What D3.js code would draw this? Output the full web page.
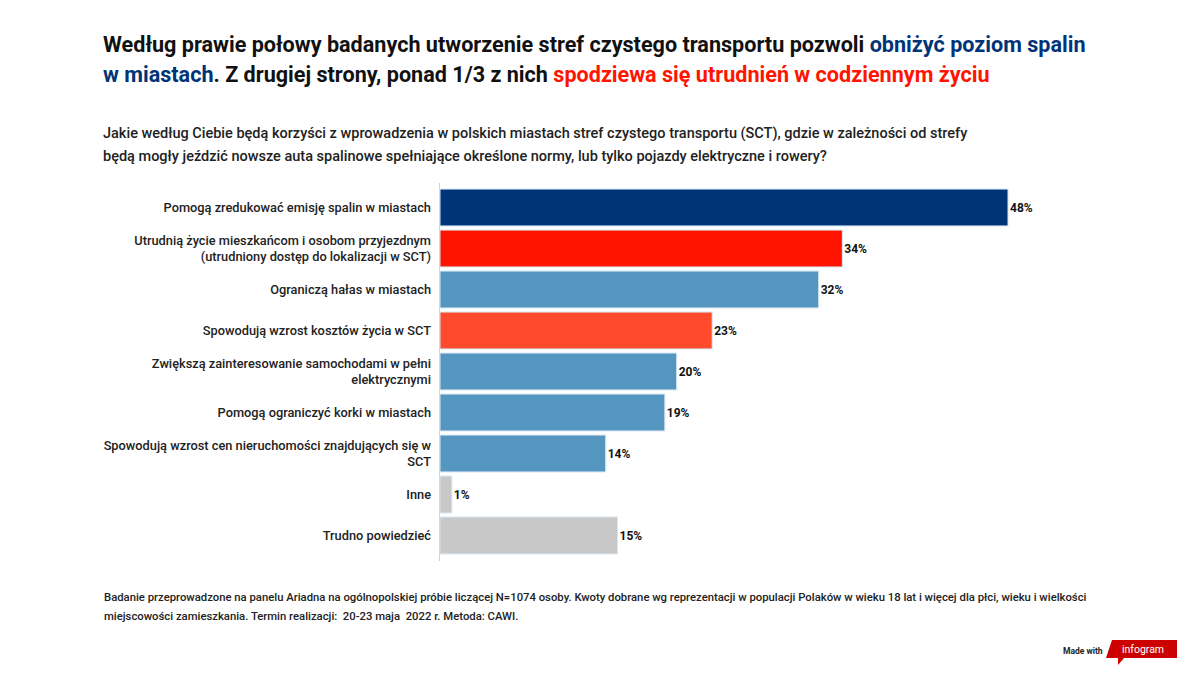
<!DOCTYPE html>
<html><head><meta charset="utf-8">
<script src="https://cdn.jsdelivr.net/npm/d3@7"></script>
<style>
html,body{margin:0;padding:0;background:#fff;}
svg{display:block;font-family:Roboto,"Noto Sans",sans-serif;}
text{white-space:pre;}
</style></head>
<body>
<svg id="chart" width="1200" height="675"></svg>
<script>
const categories = [
  "Pomogą zredukować emisję spalin w miastach",
  "Utrudnią życie mieszkańcom i osobom przyjezdnym\n(utrudniony dostęp do lokalizacji w SCT)",
  "Ograniczą hałas w miastach",
  "Spowodują wzrost kosztów życia w SCT",
  "Zwiększą zainteresowanie samochodami w pełni\nelektrycznymi",
  "Pomogą ograniczyć korki w miastach",
  "Spowodują wzrost cen nieruchomości znajdujących się w\nSCT",
  "Inne",
  "Trudno powiedzieć"
];
const values = [48, 34, 32, 23, 20, 19, 14, 1, 15];
const barColors = ["#003478", "#ff1400", "#5496c0", "#ff4b2b", "#5496c0", "#5496c0", "#5496c0", "#c8c8c8", "#c8c8c8"];
const valueLabels = values.map(v => v + "%");

const titleLine1 = [
  {t: "Według prawie połowy badanych utworzenie stref czystego transportu pozwoli ", c: "#111"},
  {t: "obniżyć poziom spalin", c: "#003478"}
];
const titleLine2 = [
  {t: "w miastach", c: "#003478"},
  {t: ". Z drugiej strony, ponad 1/3 z nich ", c: "#111"},
  {t: "spodziewa się utrudnień w codziennym życiu", c: "#ff1400"}
];
const subtitle = [
  "Jakie według Ciebie będą korzyści z wprowadzenia w polskich miastach stref czystego transportu (SCT), gdzie w zależności od strefy",
  "będą mogły jeździć nowsze auta spalinowe spełniające określone normy, lub tylko pojazdy elektryczne i rowery?"
];
const footnote = [
  "Badanie przeprowadzone na panelu Ariadna na ogólnopolskiej próbie liczącej N=1074 osoby. Kwoty dobrane wg reprezentacji w populacji Polaków w wieku 18 lat i więcej dla płci, wieku i wielkości",
  "miejscowości zamieszkania. Termin realizacji:  20-23 maja  2022 r. Metoda: CAWI."
];

const svg = d3.select("#chart");

// Title
function richLine(parts, y) {
  const t = svg.append("text").attr("x", 103).attr("y", y)
    .attr("font-size", 21.6).attr("font-weight", 700);
  parts.forEach(p => t.append("tspan").attr("fill", p.c).text(p.t));
  return t;
}
richLine(titleLine1, 52);
richLine(titleLine2, 82);

svg.selectAll("text.sub").data(subtitle).enter().append("text")
  .attr("class", "sub").attr("x", 103).attr("y", (d, i) => 138 + i * 23)
  .attr("font-size", 14.5).attr("font-weight", 500).attr("fill", "#222").text(d => d);

// Chart
const x0 = 440;
const x = d3.scaleLinear().domain([0, 48]).range([x0, 1008]);
const y = d3.scaleBand().domain(categories).range([187, 556]).paddingInner(0.1).paddingOuter(0.05);

svg.append("line").attr("x1", x0 - 0.5).attr("x2", x0 - 0.5).attr("y1", 183).attr("y2", 561)
  .attr("stroke", "#d0d0d0").attr("stroke-width", 1);

svg.selectAll("rect.bar").data(values).enter().append("rect")
  .attr("class", "bar")
  .attr("x", x0)
  .attr("y", (d, i) => y(categories[i]))
  .attr("width", d => x(d) - x0)
  .attr("height", y.bandwidth())
  .attr("fill", (d, i) => barColors[i])
  .attr("stroke", "#d6e6f2").attr("stroke-width", 1);

svg.selectAll("text.val").data(values).enter().append("text")
  .attr("class", "val")
  .attr("x", d => x(d) + 2)
  .attr("y", (d, i) => y(categories[i]) + y.bandwidth() / 2 + 4)
  .attr("font-size", 12).attr("font-weight", 700).attr("fill", "#111")
  .text((d, i) => valueLabels[i]);

categories.forEach((c, i) => {
  const lines = c.split("\n");
  const cy = y(c) + y.bandwidth() / 2;
  const t = svg.append("text").attr("text-anchor", "end").attr("x", 431)
    .attr("font-size", 12.8).attr("font-weight", 500).attr("fill", "#222");
  lines.forEach((l, j) => {
    t.append("tspan").attr("x", 431)
      .attr("y", cy + 4.5 + (j - (lines.length - 1) / 2) * 15.5)
      .text(l);
  });
});

svg.selectAll("text.foot").data(footnote).enter().append("text")
  .attr("class", "foot").attr("x", 104).attr("y", (d, i) => 601 + i * 19)
  .attr("font-size", 11.3).attr("font-weight", 500).attr("fill", "#222").text(d => d);

// Made with infogram
svg.append("text").attr("x", 1063).attr("y", 654).attr("font-size", 8.5).attr("font-weight", 700)
  .attr("fill", "#222").text("Made with");
svg.append("path")
  .attr("d", "M1112,640 L1177,640 L1177,658 L1124,658 L1118,665 L1118,658 L1106,658 Z")
  .attr("fill", "#c00");
svg.append("text").attr("x", 1143).attr("y", 653).attr("text-anchor", "middle")
  .attr("font-size", 10.5).attr("fill", "#fff").text("infogram");
</script>
</body></html>
